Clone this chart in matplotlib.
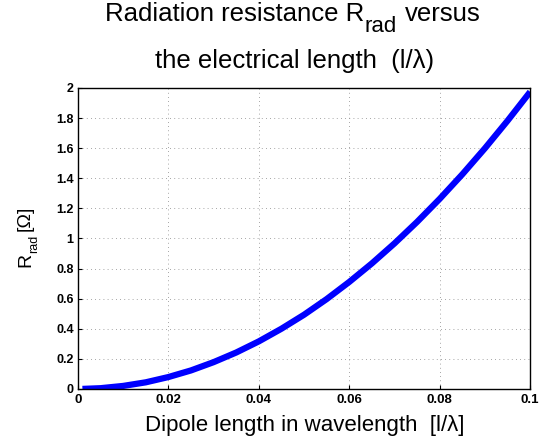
import matplotlib
matplotlib.use("Agg")
import matplotlib.pyplot as plt

# values
length = [0.001, 0.005, 0.01, 0.015, 0.02, 0.025, 0.03, 0.035, 0.04, 0.045, 0.05,
          0.055, 0.06, 0.065, 0.07, 0.075, 0.08, 0.085, 0.09, 0.095, 0.1]
r_rad = [0.0002, 0.005, 0.02, 0.044, 0.079, 0.123, 0.178, 0.242, 0.316, 0.40, 0.493,
         0.597, 0.711, 0.834, 0.967, 1.11, 1.263, 1.426, 1.599, 1.782, 1.974]

xticks = [0, 0.02, 0.04, 0.06, 0.08, 0.1]
xticklabels = ["0", "0.02", "0.04", "0.06", "0.08", "0.1"]
yticks = [0, 0.2, 0.4, 0.6, 0.8, 1, 1.2, 1.4, 1.6, 1.8, 2]
yticklabels = ["0", "0.2", "0.4", "0.6", "0.8", "1", "1.2", "1.4", "1.6", "1.8", "2"]

plt.rcParams['font.family'] = ['Liberation Sans', 'DejaVu Sans']

W, H = 541, 444
fig = plt.figure(figsize=(W / 100, H / 100), dpi=100)
ax = fig.add_axes([0.144, 0.124, 0.836, 0.678])

ax.plot(length, r_rad, color='#0000ff', lw=4.5, solid_capstyle='butt')

ax.set_xlim(0, 0.1)
ax.set_ylim(0, 2)
ax.set_xticks(xticks)
ax.set_xticklabels(xticklabels, fontweight='bold', fontsize=9.5)
ax.set_yticks(yticks)
ax.set_yticklabels(yticklabels, fontweight='bold', fontsize=9)
ax.tick_params(direction='in', length=3, width=0.8, pad=3)
ax.tick_params(axis='x', pad=4)
ax.grid(True, linestyle=(0, (1, 4)), color='#888888', lw=0.6)
for s in ax.spines.values():
    s.set_linewidth(1.0)


def place(pieces, cx, base, vertical=False):
    # pieces: (text, fontsize, drop px, gap px after)
    # centred on cx (px, from left; or from top if vertical), baseline at base (px from top / left)
    r = fig.canvas.get_renderer()
    arts = []
    for txt, size, drop, gap in pieces:
        t = fig.text(0, 0, txt, fontsize=size, ha='left', va='baseline',
                     rotation=90 if vertical else 0, rotation_mode='anchor')
        ext = t.get_window_extent(r)
        arts.append((t, ext.height if vertical else ext.width, drop, gap))
    total = sum(a[1] + a[3] for a in arts) - arts[-1][3]
    pos = 0
    for t, w, drop, gap in arts:
        if vertical:
            t.set_position(((base + drop) / W, (H - cx - total / 2 + pos) / H))
        else:
            t.set_position(((cx - total / 2 + pos) / W, 1 - (base + drop) / H))
        pos += w + gap


# MATLAB-style subscripts: pieces placed by hand
place([("Radiation resistance R", 18.5, 0, 0), ("rad", 16, 11, 9), ("versus", 18.5, 0, 0)], 293, 21)
place([("the electrical length  (l/\u03bb)", 18.5, 0, 0)], 295, 68)
place([("Dipole length in wavelength  [l/\u03bb]", 16, 0, 0)], 305, 431)
place([("R", 14, 0, 0), ("rad", 9, 7, 4), ("[\u03a9]", 14, 0, 0)], 236, 30, vertical=True)

fig.savefig("out.png", dpi=100)
